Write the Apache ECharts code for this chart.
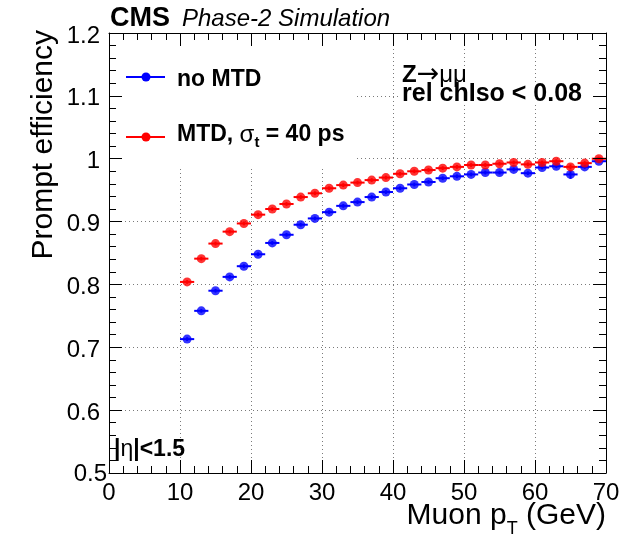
<!DOCTYPE html>
<html>
<head>
<meta charset="utf-8">
<script src="https://cdn.jsdelivr.net/npm/echarts@6/dist/echarts.min.js"></script>
<style>
html,body{margin:0;padding:0;background:#fff;}
#chart{width:638px;height:540px;}
</style>
</head>
<body>
<div id="chart"></div>
<script>
// ---- data ----
const ptBins = [11,13,15,17,19,21,23,25,27,29,31,33,35,37,39,41,43,45,47,49,51,53,55,57,59,61,63,65,67,69];
const binHalfWidth = 1;
const noMtd = [0.713,0.758,0.790,0.812,0.829,0.848,0.866,0.879,0.895,0.905,0.915,0.925,0.931,0.939,0.947,0.953,0.959,0.963,0.969,0.972,0.975,0.978,0.978,0.983,0.977,0.986,0.988,0.975,0.987,0.996];
const noMtdErr = [0.003,0.003,0.003,0.003,0.003,0.003,0.003,0.003,0.003,0.003,0.003,0.003,0.003,0.003,0.003,0.003,0.003,0.003,0.003,0.003,0.003,0.003,0.003,0.003,0.003,0.003,0.003,0.007,0.003,0.003];
const mtd = [0.804,0.841,0.865,0.884,0.897,0.911,0.920,0.928,0.939,0.945,0.953,0.958,0.962,0.966,0.970,0.976,0.980,0.982,0.985,0.987,0.990,0.990,0.992,0.994,0.991,0.994,0.996,0.987,0.993,1.000];
const mtdErr = [0.003,0.003,0.003,0.003,0.003,0.003,0.003,0.003,0.003,0.003,0.003,0.003,0.003,0.003,0.003,0.003,0.003,0.003,0.003,0.003,0.003,0.003,0.003,0.003,0.003,0.003,0.003,0.004,0.003,0.003];
const seriesNames = ['no MTD', 'MTD, σt = 40 ps'];
const xRange = [0, 70], xStep = 10;
const yRange = [0.5, 1.2], yStep = 0.1;
const xTitle = 'Muon p{sub|T} (GeV)';
const yTitle = 'Prompt efficiency';

const FONT = '"Liberation Sans", Helvetica, Arial, sans-serif';
const SYM = '"DejaVu Sans", sans-serif';
const BLUE = '#0000ff', RED = '#ff0000';

const chart = echarts.init(document.getElementById('chart'), null, {renderer: 'canvas'});

function errBars(color) {
  return function (params, api) {
    const x = api.value(0), y = api.value(1), e = api.value(2);
    const l = api.coord([x - binHalfWidth, y]), r = api.coord([x + binHalfWidth, y]);
    const t = api.coord([x, y + e]), b = api.coord([x, y - e]);
    return {type: 'group', children: [
      {type: 'line', shape: {x1: l[0], y1: l[1], x2: r[0], y2: r[1]}, style: {stroke: color, lineWidth: 2}},
      {type: 'line', shape: {x1: t[0], y1: t[1], x2: b[0], y2: b[1]}, style: {stroke: color, lineWidth: 2}}
    ]};
  };
}

const tickCommon = {
  axisLine: {show: true, onZero: false, lineStyle: {color: '#000', width: 1}},
  axisTick: {show: true, inside: true, length: 13, lineStyle: {color: '#000', width: 1}},
  minorTick: {show: true, splitNumber: 5, length: 7, lineStyle: {color: '#000', width: 1}},
  splitLine: {show: false}
};
const gridOnly = {
  axisLine: {show: false}, axisTick: {show: false}, axisLabel: {show: false},
  minorTick: {show: false},
  splitLine: {show: true, lineStyle: {color: '#7a7a7a', width: 1, type: [1, 3]}}
};

function yFmt(v) {
  const s = String(parseFloat(v.toFixed(1)));
  return Math.abs(v - yRange[0]) < 1e-6 ? '{e|' + s + '}' : '{n|' + s + '}';
}

const option = {
  animation: false,
  backgroundColor: '#fff',
  grid: {left: 109, right: 32, top: 33, bottom: 67, containLabel: false, outerBoundsMode: 'none'},
  xAxis: [
    Object.assign({
      type: 'value', min: xRange[0], max: xRange[1], interval: xStep, position: 'bottom', z: 5,
      axisLabel: {show: true, color: '#000', fontFamily: FONT, fontSize: 24, margin: 8},
      name: xTitle, nameLocation: 'end', nameGap: 0, nameMoveOverlap: false,
      nameTextStyle: {color: '#000', fontFamily: FONT, fontSize: 30, lineHeight: 44,
        align: 'right', verticalAlign: 'top', padding: [21, 0, 0, 0],
        rich: {sub: {fontFamily: FONT, fontSize: 18, lineHeight: 8, verticalAlign: 'bottom', color: '#000'}}}
    }, tickCommon),
    Object.assign({
      type: 'value', min: xRange[0], max: xRange[1], interval: xStep, position: 'top', z: 5,
      axisLabel: {show: false}
    }, tickCommon),
    Object.assign({type: 'value', min: xRange[0], max: xRange[1], interval: xStep, position: 'bottom', z: 0}, gridOnly)
  ],
  yAxis: [
    Object.assign({
      type: 'value', min: yRange[0], max: yRange[1], interval: yStep, position: 'left', z: 5,
      axisLabel: {show: true, color: '#000', fontFamily: FONT, fontSize: 24, margin: 2, formatter: yFmt,
        rich: {
          n: {fontFamily: FONT, fontSize: 24, color: '#000', padding: [6, 7, 0, 0]},
          e: {fontFamily: FONT, fontSize: 24, color: '#000', padding: [3, 0, 0, 0]}
        }},
      name: yTitle, nameLocation: 'end', nameGap: 3, nameRotate: 90, nameMoveOverlap: false,
      nameTextStyle: {color: '#000', fontFamily: FONT, fontSize: 30, align: 'right', verticalAlign: 'bottom',
        padding: [0, 0, 50, 0]}
    }, tickCommon),
    Object.assign({
      type: 'value', min: yRange[0], max: yRange[1], interval: yStep, position: 'right', z: 5,
      axisLabel: {show: false}
    }, tickCommon),
    Object.assign({type: 'value', min: yRange[0], max: yRange[1], interval: yStep, position: 'left', z: 0}, gridOnly)
  ],
  series: [
    {type: 'custom', name: seriesNames[0] + ' err', renderItem: errBars(BLUE), z: 2,
     encode: {x: 0, y: 1}, data: ptBins.map((x, i) => [x, noMtd[i], noMtdErr[i]])},
    {type: 'scatter', name: seriesNames[0], symbol: 'circle', symbolSize: 9, z: 3,
     itemStyle: {color: BLUE}, data: ptBins.map((x, i) => [x, noMtd[i]])},
    {type: 'custom', name: seriesNames[1] + ' err', renderItem: errBars(RED), z: 4,
     encode: {x: 0, y: 1}, data: ptBins.map((x, i) => [x, mtd[i], mtdErr[i]])},
    {type: 'scatter', name: seriesNames[1], symbol: 'circle', symbolSize: 9, z: 4,
     itemStyle: {color: RED}, data: ptBins.map((x, i) => [x, mtd[i]])}
  ],
  graphic: {elements: [
    // legend box (covers grid lines)
    {type: 'rect', z: 1, silent: true, shape: {x: 110, y: 34, width: 246, height: 132}, style: {fill: '#fff'}},
    {type: 'line', z: 6, shape: {x1: 126, y1: 77, x2: 165, y2: 77}, style: {stroke: BLUE, lineWidth: 2}},
    {type: 'circle', z: 6, shape: {cx: 146, cy: 77, r: 4.5}, style: {fill: BLUE}},
    {type: 'text', z: 6, x: 177, y: 80, style: {text: seriesNames[0], fontFamily: FONT, fontWeight: 'bold', fontSize: 23,
      fill: '#000', align: 'left', verticalAlign: 'middle'}},
    {type: 'line', z: 6, shape: {x1: 126, y1: 137, x2: 165, y2: 137}, style: {stroke: RED, lineWidth: 2}},
    {type: 'circle', z: 6, shape: {cx: 146, cy: 137, r: 4.5}, style: {fill: RED}},
    {type: 'text', z: 6, x: 177, y: 135, style: {text: 'MTD, {s|σ}{t|t} = 40 ps', fontFamily: FONT, fontWeight: 'bold', fontSize: 23,
      lineHeight: 30, fill: '#000', align: 'left', verticalAlign: 'middle',
      rich: {
        s: {fontFamily: FONT, fontWeight: 'normal', fontSize: 24, lineHeight: 30, fill: '#000'},
        t: {fontFamily: FONT, fontWeight: 'bold', fontSize: 15, lineHeight: 10, verticalAlign: 'bottom', fill: '#000'}
      }}},
    // physics text
    {type: 'rect', z: 1, silent: true, shape: {x: 400, y: 84, width: 192, height: 21}, style: {fill: '#fff'}},
    {type: 'text', z: 6, x: 402, y: 75, style: {text: '{b|Z}{a|→}{n|μμ}', fontFamily: FONT, fontSize: 24, fill: '#000',
      align: 'left', verticalAlign: 'middle',
      rich: {b: {fontFamily: FONT, fontWeight: 'bold', fontSize: 24, fill: '#000'},
             a: {fontFamily: SYM, fontWeight: 'normal', fontSize: 27, fill: '#000'},
             n: {fontFamily: FONT, fontWeight: 'normal', fontSize: 24, fill: '#000'}}}},
    {type: 'text', z: 6, x: 402, y: 94, style: {text: 'rel chIso < 0.08', fontFamily: FONT, fontWeight: 'bold', fontSize: 25,
      fill: '#000', align: 'left', verticalAlign: 'middle'}},
    {type: 'text', z: 6, x: 114, y: 450, style: {text: '{b||}{n|η}{b||<1.5}', fontFamily: FONT, fontSize: 23, fill: '#000',
      align: 'left', verticalAlign: 'middle',
      rich: {b: {fontFamily: FONT, fontWeight: 'bold', fontSize: 23, fill: '#000'},
             n: {fontFamily: FONT, fontWeight: 'normal', fontSize: 23, fill: '#000'}}}},
    // header
    {type: 'text', z: 6, x: 110, y: 19, style: {text: 'CMS', fontFamily: FONT, fontWeight: 'bold', fontSize: 27,
      fill: '#000', align: 'left', verticalAlign: 'middle'}},
    {type: 'text', z: 6, x: 182, y: 19, style: {text: 'Phase-2 Simulation', fontFamily: FONT, fontStyle: 'italic', fontSize: 24,
      fill: '#000', align: 'left', verticalAlign: 'middle'}}
  ]}
};
chart.setOption(option);
</script>
</body>
</html>
